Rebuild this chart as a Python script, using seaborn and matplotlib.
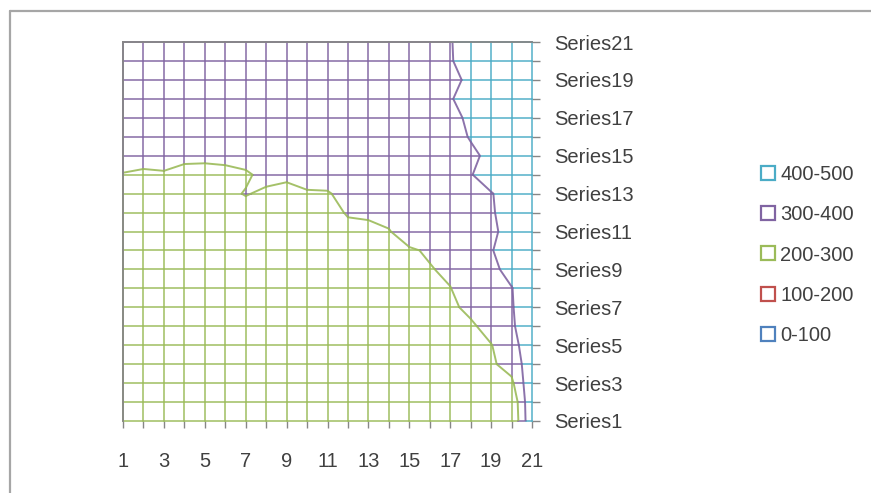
import numpy as np
import pandas as pd
import matplotlib
matplotlib.use("Agg")
import matplotlib.pyplot as plt
from matplotlib.lines import Line2D
import seaborn as sns

# ---------------- data ----------------
x_values = list(range(1, 22))
series_names = ["Series%d" % i for i in range(1, 22)]
band_labels = ["0-100", "100-200", "200-300", "300-400", "400-500"]
band_edges = [0, 100, 200, 300, 400, 500]
band_colors = ["#4F81BD", "#C0504D", "#9BBB59", "#8064A2", "#4BACC6"]

series1 = [250, 250, 250, 250, 250, 250, 250, 250, 250, 250, 250, 250, 250, 250, 250, 250, 250, 250, 250, 205, 490]
series2 = [250, 250, 250, 250, 250, 250, 250, 250, 250, 250, 250, 250, 250, 250, 250, 250, 250, 250, 250, 217, 494]
series3 = [250, 250, 250, 250, 250, 250, 250, 250, 250, 250, 250, 250, 250, 250, 250, 250, 250, 250, 250, 279, 487]
series4 = [250, 250, 250, 250, 250, 250, 250, 250, 250, 250, 250, 250, 250, 250, 250, 250, 250, 250, 285, 340, 460]
series5 = [250, 250, 250, 250, 250, 250, 250, 250, 250, 250, 250, 250, 250, 250, 250, 250, 250, 250, 297, 350, 490]
series6 = [250, 250, 250, 250, 250, 250, 250, 250, 250, 250, 250, 250, 250, 250, 250, 250, 250, 287, 330, 385, 473]
series7 = [250, 250, 250, 250, 250, 250, 250, 250, 250, 250, 250, 250, 250, 250, 250, 250, 284, 320, 360, 390, 490]
series8 = [250, 250, 250, 250, 250, 250, 250, 250, 250, 250, 250, 250, 250, 250, 250, 250, 298, 338, 370, 396, 476]
series9 = [250, 250, 250, 250, 250, 250, 250, 250, 250, 250, 250, 250, 250, 250, 250, 295, 315, 350, 373, 436, 450]
series10 = [250, 250, 250, 250, 250, 250, 250, 250, 250, 250, 250, 250, 250, 250, 290, 310, 350, 350, 394, 450, 450]
series11 = [250, 250, 250, 250, 250, 250, 250, 250, 250, 250, 250, 285, 270, 295, 345, 350, 350, 350, 373, 450, 450]
series12 = [250, 250, 250, 250, 250, 250, 260, 250, 250, 250, 280, 305, 320, 328, 350, 350, 350, 350, 388, 450, 450]
series13 = [250, 250, 250, 250, 250, 276, 306, 283, 270, 290, 292, 332, 350, 350, 350, 350, 350, 350, 395, 440, 450]
series14 = [295, 285, 290, 272, 270, 275, 285, 330, 320, 340, 345, 350, 350, 350, 350, 350, 350, 395, 445, 450, 450]
series15 = [345, 335, 340, 322, 320, 325, 345, 350, 350, 350, 350, 350, 350, 350, 350, 350, 350, 380, 424, 450, 450]
series16 = [350, 350, 350, 350, 350, 350, 350, 350, 350, 350, 350, 350, 350, 350, 350, 350, 360, 407, 450, 450, 450]
series17 = [350, 350, 350, 350, 350, 350, 350, 350, 350, 350, 350, 350, 350, 350, 350, 350, 355, 430, 450, 450, 450]
series18 = [350, 350, 350, 350, 350, 350, 350, 350, 350, 350, 350, 350, 350, 350, 350, 350, 393, 440, 450, 450, 450]
series19 = [350, 350, 350, 350, 350, 350, 350, 350, 350, 350, 350, 350, 350, 350, 350, 350, 349, 440, 450, 450, 450]
series20 = [350, 350, 350, 350, 350, 350, 350, 350, 350, 350, 350, 350, 350, 350, 350, 350, 393, 440, 450, 450, 450]
series21 = [350, 350, 350, 350, 350, 350, 350, 350, 350, 350, 350, 350, 350, 350, 350, 350, 395, 440, 450, 450, 450]

Z = np.array([series1, series2, series3, series4, series5, series6, series7,
              series8, series9, series10, series11, series12, series13, series14,
              series15, series16, series17, series18, series19, series20, series21],
             dtype=float)
y_values = list(range(1, len(series_names) + 1))

# ---------------- helpers ----------------
def band_of(v):
    return int(np.clip(np.searchsorted(band_edges, v, side="right") - 1, 0, len(band_labels) - 1))


def line_runs(coords, vals):
    pts = [(coords[0], vals[0])]
    for i in range(len(coords) - 1):
        a, b = vals[i], vals[i + 1]
        lo, hi = min(a, b), max(a, b)
        cuts = sorted([lv for lv in band_edges[1:-1] if lo < lv < hi], reverse=(a > b))
        for lv in cuts:
            t = (lv - a) / (b - a)
            pts.append((coords[i] + t * (coords[i + 1] - coords[i]), lv))
        pts.append((coords[i + 1], b))
    runs = []
    for (p0, v0), (p1, v1) in zip(pts[:-1], pts[1:]):
        bd = band_of((v0 + v1) / 2.0)
        if runs and runs[-1][0] == bd:
            runs[-1][1].append(p1)
        else:
            runs.append([bd, [p0, p1]])
    return runs


records = []
uid = 0
for ri, yv in enumerate(y_values):
    for bd, pos in line_runs(x_values, list(Z[ri, :])):
        for p in pos:
            records.append({"x": p, "y": yv, "uid": uid, "band": band_labels[bd]})
        uid += 1
for ci, xv in enumerate(x_values):
    for bd, pos in line_runs(y_values, list(Z[:, ci])):
        for p in pos:
            records.append({"x": xv, "y": p, "uid": uid, "band": band_labels[bd]})
        uid += 1
df = pd.DataFrame(records)

# ---------------- plot ----------------
sns.set_theme(style="white")
plt.rcParams["font.family"] = ["Liberation Sans", "DejaVu Sans"]

W, H = 871, 493
fig = plt.figure(figsize=(W / 100, H / 100), dpi=100)
fig.patch.set_facecolor("white")
ax = fig.add_axes([123 / W, 1 - 421 / H, (532 - 123) / W, (421 - 42) / H])

palette = dict(zip(band_labels, band_colors))
sns.lineplot(data=df, x="x", y="y", units="uid", hue="band", palette=palette,
             estimator=None, sort=False, legend=False, linewidth=1.4, alpha=0.75, ax=ax)

# contour boundaries, drawn in the colour of the band below each level
XX, YY = np.meshgrid(x_values, y_values)
for k, lv in enumerate(band_edges[1:-1]):
    ax.contour(XX, YY, Z, levels=[lv], colors=[band_colors[k]], linewidths=1.4, alpha=0.9)

for ln in ax.lines:
    ln.set_clip_on(False)

ax.set_xlim(1, 21)
ax.set_ylim(1, 21)
ax.set_xlabel("")
ax.set_ylabel("")

text_col = "#404040"
ax.set_xticks(x_values)
ax.set_xticklabels([str(v) if v % 2 == 1 else "" for v in x_values])
ax.yaxis.tick_right()
ax.set_yticks(y_values)
ax.set_yticklabels([n if i % 2 == 0 else "" for i, n in enumerate(series_names)])
ax.tick_params(axis="x", which="both", bottom=True, direction="out", length=5,
               width=1, color="#868686", labelsize=14.5, labelcolor=text_col, pad=17)
ax.tick_params(axis="y", which="both", right=True, left=False, direction="out", length=6,
               width=1, color="#868686", labelsize=14.5, labelcolor=text_col, pad=10)
for lab in ax.get_yticklabels():
    lab.set_horizontalalignment("left")

for side in ["bottom", "right"]:
    ax.spines[side].set_visible(False)
for side in ["left", "top"]:
    ax.spines[side].set_visible(True)
    ax.spines[side].set_color("#868686")
    ax.spines[side].set_linewidth(1.3)
    ax.spines[side].set_zorder(10)
ax.grid(False)
ax.set_facecolor("white")

# legend
handles = [Line2D([], [], marker="s", linestyle="none", markerfacecolor="none",
                  markeredgecolor=band_colors[i], markeredgewidth=1.6, markersize=10.5)
           for i in range(len(band_labels) - 1, -1, -1)]
labels = [band_labels[i] for i in range(len(band_labels) - 1, -1, -1)]
leg = fig.legend(handles, labels, loc="center left", bbox_to_anchor=(748 / W, 1 - 255 / H),
                 frameon=False, fontsize=14.5, handletextpad=0.1, labelspacing=1.05,
                 handlelength=1.0, borderpad=0)
for t in leg.get_texts():
    t.set_color(text_col)

# chart area border (partially visible)
bc = "#a6a6a6"
fig.add_artist(Line2D([10 / W, 10 / W], [0, 1 - 11 / H], transform=fig.transFigure, color=bc, lw=1.6))
fig.add_artist(Line2D([10 / W, 1], [1 - 11 / H, 1 - 11 / H], transform=fig.transFigure, color=bc, lw=1.6))

fig.savefig("out.png", dpi=100, facecolor="white")
